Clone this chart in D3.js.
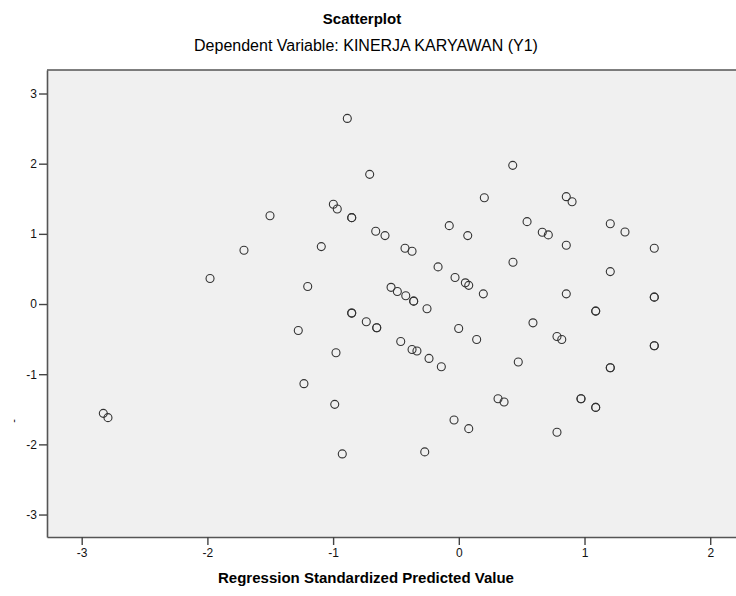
<!DOCTYPE html>
<html>
<head>
<meta charset="utf-8">
<script src="https://cdn.jsdelivr.net/npm/d3@7"></script>
<style>
  body { margin: 0; background: #fff; }
  text { font-family: 'Liberation Sans', Arial, sans-serif; }
</style>
</head>
<body>
<div id="chart"></div>
<script>
// Regression standardized predicted value (x) vs studentized residual (y)
const predicted = [
  -0.887, -0.709, -0.998, -0.967, -0.852, -0.852, -0.661, -0.587, -1.502, -1.094,
  -1.709, -1.979, -1.202, -0.539, 0.429, 0.203, 0.855, 0.901, -0.076, 0.071,
  0.543, 0.664, 0.712, 0.855, 1.205, 1.322, 1.555, -0.428, -0.372, -0.165,
  0.431, 1.205, -0.030, 0.052, 0.079, -0.489, 0.195, 0.855, -0.422, -0.359,
  -0.359, -0.253, 1.555, 1.555, 1.089, 1.089, -0.852, -0.852, -0.736, -0.653,
  -0.653, -1.277, -0.001, 0.142, 0.590, 0.781, 0.819, -0.462, -0.372, -0.333,
  -0.237, -0.139, 0.473, 1.205, 1.205, 1.555, 1.555, -0.977, -1.232, -0.987,
  -0.927, -2.828, -2.791, 0.312, 0.360, 0.972, 0.972, 1.089, 1.089, -0.038,
  0.079, 0.781, -0.271
];
const residual = [
  2.645, 1.848, 1.421, 1.355, 1.231, 1.231, 1.037, 0.975, 1.259, 0.818,
  0.767, 0.363, 0.249, 0.238, 1.976, 1.515, 1.530, 1.458, 1.117, 0.975,
  1.174, 1.023, 0.985, 0.838, 1.145, 1.027, 0.795, 0.795, 0.753, 0.529,
  0.596, 0.462, 0.377, 0.302, 0.266, 0.178, 0.145, 0.145, 0.117, 0.041,
  0.041, -0.068, 0.098, 0.098, -0.101, -0.101, -0.129, -0.129, -0.253, -0.339,
  -0.339, -0.377, -0.349, -0.505, -0.268, -0.462, -0.505, -0.534, -0.647, -0.670,
  -0.775, -0.894, -0.827, -0.908, -0.908, -0.595, -0.595, -0.694, -1.135, -1.430,
  -2.136, -1.558, -1.619, -1.349, -1.396, -1.349, -1.349, -1.473, -1.473, -1.652,
  -1.776, -1.828, -2.107
];
const xTicks = [-3, -2, -1, 0, 1, 2];
const yTicks = [-3, -2, -1, 0, 1, 2, 3];

const points = predicted.map((p, i) => ({ x: p, y: residual[i] }));

const leftMargin = 47;
const topMargin = 70;
const plotWidth = 713;
const plotHeight = 467;

const svg = d3
  .select('#chart')
  .append('svg')
  .attr('width', 736)
  .attr('height', 596);

// Titles
svg
  .append('text')
  .attr('x', 362)
  .attr('y', 24)
  .attr('text-anchor', 'middle')
  .style('font-size', '15px')
  .style('font-weight', 'bold')
  .text('Scatterplot');

svg
  .append('text')
  .attr('x', 366)
  .attr('y', 51)
  .attr('text-anchor', 'middle')
  .style('font-size', '16px')
  .text('Dependent Variable: KINERJA KARYAWAN (Y1)');

const g = svg
  .append('g')
  .attr('transform', 'translate(' + leftMargin + ',' + topMargin + ')');

const x = d3.scaleLinear().domain([-3.276, 2.396]).range([0, plotWidth]);
const y = d3.scaleLinear().domain([-3.32, 3.335]).range([plotHeight, 0]);

// Plot background
g.append('rect')
  .attr('width', plotWidth)
  .attr('height', plotHeight)
  .attr('fill', '#f0f0f0');

// Circles
g.selectAll('.pt')
  .data(points)
  .enter()
  .append('circle')
  .attr('class', 'pt')
  .attr('cx', (d) => x(d.x))
  .attr('cy', (d) => y(d.y))
  .attr('r', 4)
  .attr('fill', 'none')
  .attr('stroke', '#333')
  .attr('stroke-width', 1.1);

// Axes (plain hyphen minus like the original)
const fmt = (d) => String(d);
const xAxis = d3.axisBottom(x).tickValues(xTicks).tickFormat(fmt).tickSize(8).tickSizeOuter(0).tickPadding(3);
const yAxis = d3.axisLeft(y).tickValues(yTicks).tickFormat(fmt).tickSize(8).tickSizeOuter(0).tickPadding(2);

const gx = g.append('g').attr('transform', 'translate(0,' + plotHeight + ')').call(xAxis);
const gy = g.append('g').call(yAxis);

[gx, gy].forEach((a) => {
  a.select('.domain').attr('stroke', '#555').attr('stroke-width', 1.6);
  a.selectAll('.tick line').attr('stroke', '#444').attr('stroke-width', 1.4);
  a.selectAll('.tick text')
    .style('font-size', '12px')
    .style('font-family', "'Liberation Sans', Arial, sans-serif")
    .attr('fill', '#111');
});

// Top border
g.append('line')
  .attr('x1', 0)
  .attr('x2', plotWidth)
  .attr('y1', 0)
  .attr('y2', 0)
  .attr('stroke', '#555')
  .attr('stroke-width', 1.6);

// X axis label
svg
  .append('text')
  .attr('x', 366)
  .attr('y', 583)
  .attr('text-anchor', 'middle')
  .style('font-size', '15px')
  .style('font-weight', 'bold')
  .text('Regression Standardized Predicted Value');

// Y axis label (only a stub shows in the original)
svg
  .append('text')
  .attr('transform', 'translate(17,421) rotate(-90)')
  .attr('text-anchor', 'middle')
  .style('font-size', '11px')
  .text('-');
</script>
</body>
</html>
